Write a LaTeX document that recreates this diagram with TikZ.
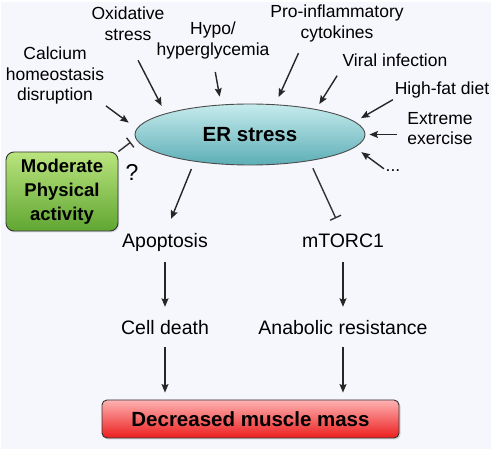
\documentclass[tikz,border=0pt]{standalone}
\usepackage{fontspec}
\setmainfont{Liberation Sans}
\usetikzlibrary{arrows.meta,shapes.geometric,shadows}

\definecolor{bgpale}{RGB}{246,246,253}
\definecolor{ertop}{RGB}{198,235,237}
\definecolor{erbot}{RGB}{92,174,182}
\definecolor{pagrtop}{RGB}{186,228,126}
\definecolor{pagrbot}{RGB}{96,166,50}
\definecolor{redtop}{RGB}{255,178,178}
\definecolor{redbot}{RGB}{236,30,30}

\begin{document}
\begin{tikzpicture}[
  x=1pt, y=-1pt,
  >={Stealth[length=8.5pt,width=7pt,inset=1.5pt]},
  lbl/.style={font=\fontsize{17.5}{20.5}\selectfont, align=center, inner sep=0, anchor=north},
  res/.style={font=\fontsize{19.5}{23}\selectfont, inner sep=0, anchor=base, text height=14pt, text depth=4pt},
  arr/.style={->, line width=1.4pt, draw=black!85},
  inh/.style={-{Bar[width=12pt]}, line width=1.4pt, draw=black!80},
  every node/.style={text=black},
]
  \useasboundingbox (0,0) rectangle (496,454);
  \fill[bgpale] (1,2) rectangle (491,449);

  % central stress node
  \node[ellipse, draw=black!70, line width=0.9pt, minimum width=230pt, minimum height=61pt, inner sep=0,
        top color=ertop, bottom color=erbot, font=\bfseries\fontsize{20.5}{24}\selectfont] (er) at (250,134.5) {ER stress};

  % triggers
  \node[lbl] (calc)  at (55,47)  {Calcium\\homeostasis\\disruption};
  \node[lbl] (oxid)  at (128,7)  {Oxidative\\stress};
  \node[lbl] (hypo)  at (213,22) {Hypo/\\hyperglycemia};
  \node[lbl] (pro)   at (337,5)  {Pro-inflammatory\\cytokines};
  \node[lbl] (viral) at (395,54) {Viral infection};
  \node[lbl] (hfd)   at (442,82) {High-fat diet};
  \node[lbl] (extr)  at (440,112) {Extreme\\exercise};
  \node[lbl, anchor=base] (etc) at (393,172) {...};

  \foreach \s/\t/\a/\b in {calc.south east/er.177/2/10, oxid.south/er.166/22/8.5, hypo.south/er.134/13/8,
      pro.209/er.50/12/8, viral.south west/er.21/10/6, hfd.south west/er.7/2/7, etc.north west/er.353/2/8}
    \draw[arr, shorten <=\a pt, shorten >=\b pt] (\s) -- (\t);
  \draw[arr, shorten <=10pt, shorten >=4pt] (extr.west |- er.east) -- (er.east);

  % exercise box
  \node[draw=black!80, line width=0.9pt, rounded corners=8pt, minimum width=112pt, minimum height=79pt,
        top color=pagrtop, bottom color=pagrbot, align=center,
        drop shadow={shadow xshift=1pt, shadow yshift=-1.5pt, opacity=.25},
        font=\bfseries\fontsize{18.5}{24}\selectfont] (mpa) at (62,191.5) {Moderate\\Physical\\activity};
  \draw[inh, shorten >=6pt] (mpa.north east) -- (er.182);
  \node[font=\fontsize{23}{26}\selectfont, inner sep=0, anchor=base] (qm) at (132,181) {?};

  % downstream
  \node[res] (apo)   at (165,248) {Apoptosis};
  \node[res] (mtor)  at (343,248) {mTORC1};
  \node[res] (death) at (165,335) {Cell death};
  \node[res] (ana)   at (343,335) {Anabolic resistance};

  \node[draw=black!80, line width=0.9pt, rounded corners=5pt, minimum width=297pt, minimum height=38pt,
        top color=redtop, bottom color=redbot,
        drop shadow={shadow xshift=1.5pt, shadow yshift=-1.5pt, opacity=.3},
        font=\bfseries\fontsize{20.5}{24}\selectfont] (loss) at (250.5,419) {Decreased muscle mass};

  \draw[arr, shorten <=8pt, shorten >=16pt] (er.206) -- (apo.north);
  \draw[inh, shorten <=8pt, shorten >=17pt] (er.336) -- (mtor.north);
  \draw[arr, shorten <=10pt, shorten >=14pt] (apo) -- (death);
  \draw[arr, shorten <=10pt, shorten >=14pt] (mtor) -- (ana);
  \draw[arr, shorten <=8pt, shorten >=7pt] (death) -- (death |- loss.north);
  \draw[arr, shorten <=8pt, shorten >=7pt] (ana) -- (ana |- loss.north);
\end{tikzpicture}
\end{document}
